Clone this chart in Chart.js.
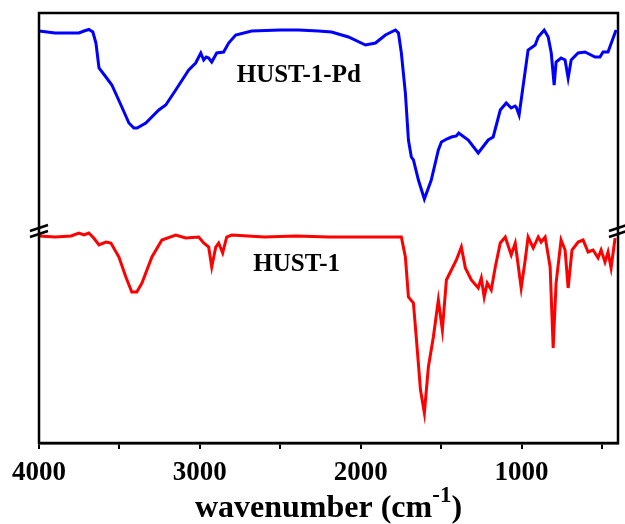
<!DOCTYPE html>
<html>
<head>
<meta charset="utf-8">
<script src="https://cdn.jsdelivr.net/npm/chart.js@4"></script>
<style>
  html, body { margin: 0; padding: 0; background: #fff; }
  #wrap { width: 625px; height: 524px; }
</style>
</head>
<body>
<div id="wrap"><canvas id="ftir"></canvas></div>
<script>
// FTIR spectra, wavenumbers (cm-1) and offset transmittance (arbitrary units)
const pdWave = [4000, 3900, 3800, 3752, 3720, 3690, 3665, 3646, 3627, 3584, 3547, 3485, 3441, 3410, 3390, 3336, 3255, 3212, 3150, 3069, 3026, 2994, 2976, 2960, 2945, 2926, 2895, 2852, 2821, 2777, 2678, 2500, 2386, 2262, 2181, 2076, 1970, 1908, 1846, 1784, 1765, 1747, 1722, 1703, 1685, 1672, 1641, 1604, 1561, 1517, 1498, 1465, 1436, 1405, 1390, 1374, 1331, 1269, 1207, 1176, 1132, 1095, 1064, 1040, 1033, 1015, 1002, 959, 915, 896, 859, 834, 815, 797, 785, 754, 729, 710, 691, 648, 605, 543, 512, 493, 462, 412];
const pdValues = [412, 410, 410, 410, 412, 413.5, 411, 400, 375, 366, 358, 336, 320, 315, 315, 320, 333, 338, 353, 373, 380, 390, 383, 386, 385, 381, 390, 391, 400, 408, 412, 413, 413, 412, 411, 406, 398, 400, 408, 413, 410, 390, 350, 303, 286, 283, 263, 244, 263, 293, 301, 304, 306, 307, 310, 308, 303, 290, 303, 306, 333, 340, 335, 337, 336, 328, 343, 393, 398, 406, 413, 406, 390, 358, 381, 385, 383, 365, 383, 390, 391, 386, 386, 391, 391, 413];

const hustWave = [4000, 3900, 3800, 3752, 3720, 3690, 3660, 3627, 3584, 3553, 3503, 3460, 3423, 3392, 3360, 3298, 3236, 3150, 3088, 3007, 2976, 2945, 2926, 2901, 2883, 2858, 2833, 2802, 2600, 2400, 2200, 2000, 1800, 1747, 1722, 1703, 1672, 1653, 1628, 1604, 1579, 1548, 1517, 1492, 1467, 1436, 1405, 1374, 1349, 1312, 1269, 1250, 1232, 1213, 1188, 1163, 1132, 1101, 1064, 1039, 1002, 977, 959, 927, 896, 878, 853, 822, 803, 785, 754, 729, 710, 686, 648, 617, 586, 555, 524, 505, 481, 462, 443, 418];
const hustValues = [207, 206, 207, 210, 208, 210, 205, 198, 201, 200, 186, 166, 151, 151, 160, 186, 203, 208, 205, 206, 200, 196, 176, 196, 200, 190, 206, 208, 206, 207, 206, 206, 206, 206, 186, 146, 140, 103, 53, 30, 76, 106, 143, 113, 163, 173, 183, 196, 175, 163, 155, 165, 146, 160, 153, 176, 200, 206, 188, 200, 155, 183, 206, 195, 206, 201, 206, 176, 95, 160, 203, 193, 155, 193, 201, 203, 191, 193, 185, 193, 181, 191, 175, 205];

const xTickValues = [4000, 3500, 3000, 2500, 2000, 1500, 1000, 500];
const xTickLabels = [4000, 3000, 2000, 1000];
const seriesNames = ['HUST-1-Pd', 'HUST-1'];
const breakLevel = 213;

function toPoints(xs, ys) {
    return xs.map((x, i) => ({x: x, y: ys[i]}));
}

const serif = '"Liberation Serif", "Times New Roman", serif';

// frame, axis breaks, series labels and axis title
const decorations = {
    id: 'decorations',
    afterDraw(chart) {
        const ctx = chart.ctx;
        const area = chart.chartArea;
        const xs = chart.scales.x;
        const ys = chart.scales.y;
        ctx.save();
        ctx.strokeStyle = '#000';
        ctx.lineWidth = 2.5;
        ctx.strokeRect(area.left, area.top, area.right - area.left, area.bottom - area.top);

        const by = ys.getPixelForValue(breakLevel);
        [area.left, area.right].forEach(function(bx) {
            ctx.lineWidth = 2.5;
            ctx.beginPath();
            ctx.moveTo(bx - 9, by + 1);
            ctx.lineTo(bx + 9, by - 5);
            ctx.moveTo(bx - 9, by + 7);
            ctx.lineTo(bx + 9, by + 1);
            ctx.stroke();
        });

        ctx.fillStyle = '#000';
        ctx.textAlign = 'center';
        ctx.textBaseline = 'middle';
        ctx.font = 'bold 25px ' + serif;
        ctx.fillText(seriesNames[0], xs.getPixelForValue(2385), ys.getPixelForValue(367));
        ctx.fillText(seriesNames[1], xs.getPixelForValue(2398), ys.getPixelForValue(178));

        // axis title with superscript
        const main1 = 'wavenumber (cm';
        const sup = '-1';
        const main2 = ')';
        ctx.font = 'bold 32px ' + serif;
        const w1 = ctx.measureText(main1).width;
        const w3 = ctx.measureText(main2).width;
        ctx.font = 'bold 23px ' + serif;
        const w2 = ctx.measureText(sup).width;
        const total = w1 + w2 + w3;
        let tx = (area.left + area.right) / 2 - total / 2;
        const baseY = 517;
        ctx.textAlign = 'left';
        ctx.textBaseline = 'alphabetic';
        ctx.font = 'bold 32px ' + serif;
        ctx.fillText(main1, tx, baseY);
        ctx.font = 'bold 23px ' + serif;
        ctx.fillText(sup, tx + w1, baseY - 15);
        ctx.font = 'bold 32px ' + serif;
        ctx.fillText(main2, tx + w1 + w2, baseY);
        ctx.restore();
    }
};

const ctx = document.getElementById('ftir').getContext('2d');
new Chart(ctx, {
    type: 'scatter',
    data: {
        datasets: [{
            label: seriesNames[0],
            data: toPoints(pdWave, pdValues),
            showLine: true,
            borderColor: '#0000ff',
            borderWidth: 3,
            pointRadius: 0,
            tension: 0
        }, {
            label: seriesNames[1],
            data: toPoints(hustWave, hustValues),
            showLine: true,
            borderColor: '#ff0000',
            borderWidth: 3,
            pointRadius: 0,
            tension: 0
        }]
    },
    options: {
        responsive: true,
        maintainAspectRatio: false,
        animation: false,
        layout: {
            padding: {left: 39, right: 7, top: 13, bottom: 0}
        },
        plugins: {
            legend: {display: false},
            tooltip: {enabled: false}
        },
        scales: {
            x: {
                type: 'linear',
                reverse: true,
                min: 400,
                max: 4000,
                afterBuildTicks(scale) {
                    scale.ticks = xTickValues.map(v => ({value: v}));
                },
                afterFit(scale) {
                    scale.height = 81;
                },
                grid: {
                    drawOnChartArea: false,
                    drawTicks: true,
                    tickLength: 6,
                    color: '#000',
                    lineWidth: 2
                },
                border: {display: true, color: '#000', width: 2.5},
                ticks: {
                    autoSkip: false,
                    maxRotation: 0,
                    padding: 8,
                    color: '#000',
                    font: {family: serif, size: 27, weight: 'bold'},
                    callback: v => xTickLabels.includes(v) ? String(v) : ''
                }
            },
            y: {
                type: 'linear',
                min: 0,
                max: 430,
                display: false
            }
        }
    },
    plugins: [decorations]
});
</script>
</body>
</html>
